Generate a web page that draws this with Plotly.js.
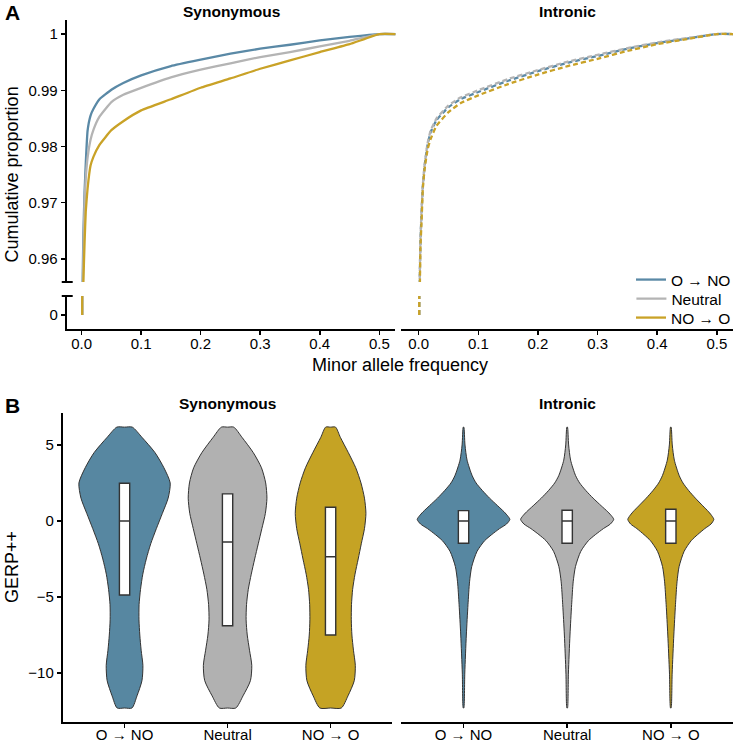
<!DOCTYPE html>
<html>
<head>
<meta charset="utf-8">
<script src="https://cdn.plot.ly/plotly-3.0.1.min.js"></script>
<style>html,body{margin:0;padding:0;background:#fff}</style>
</head>
<body>
<div id="chart" style="width:736px;height:743px"></div>
<script>
// ---------- DATA ----------
const groups = ["O → NO", "Neutral", "NO → O"];
const lineColors = ["#5A89A6", "#B4B4B4", "#C9A227"];
const fillColors = ["#5787A1", "#B1B1B1", "#C5A324"];

// Panel A: cumulative proportion vs minor allele frequency
const mafGrid = [0.001, 0.002, 0.003, 0.005, 0.007, 0.01, 0.015, 0.02, 0.03, 0.05, 0.07, 0.1, 0.15, 0.2, 0.25, 0.3, 0.35, 0.4, 0.45, 0.5, 0.53];
const synONO     = [0.950, 0.958, 0.9645, 0.972, 0.977, 0.9828, 0.9855, 0.9867, 0.9884, 0.9901, 0.9913, 0.99265, 0.9943, 0.99544, 0.9965, 0.99739, 0.9981, 0.99887, 0.9995, 1.0, 1.0];
const synNeutral = [0.948, 0.955, 0.961, 0.9705, 0.9745, 0.978, 0.9812, 0.9830, 0.9853, 0.9879, 0.9892, 0.99043, 0.9923, 0.99366, 0.9948, 0.99591, 0.9968, 0.9978, 0.9988, 1.0, 1.0];
const synNOO     = [0.940, 0.950, 0.956, 0.963, 0.9685, 0.9725, 0.9766, 0.9782, 0.9803, 0.9829, 0.9845, 0.98642, 0.9884, 0.99045, 0.9921, 0.99383, 0.9953, 0.9968, 0.9982, 1.0, 1.0];
const intONO     = [0.944, 0.957, 0.963, 0.9685, 0.9729, 0.9765, 0.9803, 0.9825, 0.9847, 0.9870, 0.9884, 0.9897, 0.9917, 0.9934, 0.9949, 0.9961, 0.9974, 0.9984, 0.9992, 1.0, 1.0];
const intNeutral = [0.945, 0.958, 0.9635, 0.969, 0.9732, 0.9768, 0.9806, 0.9828, 0.9850, 0.9873, 0.9887, 0.9900, 0.9920, 0.9936, 0.9951, 0.9963, 0.9975, 0.9985, 0.9993, 1.0, 1.0];
const intNOO     = [0.940, 0.955, 0.962, 0.967, 0.9725, 0.9760, 0.9795, 0.9813, 0.9837, 0.9861, 0.9877, 0.9891, 0.9911, 0.9928, 0.9943, 0.9956, 0.9970, 0.9982, 0.9991, 1.0, 1.0];

const mafTicks = [0, 0.1, 0.2, 0.3, 0.4, 0.5];
const cumTicks = [0.96, 0.97, 0.98, 0.99, 1];
const cumTickText = ["0.96", "0.97", "0.98", "0.99", "1"];

// Panel B: GERP++ violin profiles (half-width, category units) and box statistics
const synLevels = [6.17, 5.5, 4.5, 3.5, 2.5, 1.5, 0.5, -0.5, -1.5, -2.5, -3.5, -4.5, -5.5, -6.5, -7.5, -8.5, -9.5, -10.5, -11.5, -12.3];
const synWidthONO     = [0.075, 0.169, 0.295, 0.382, 0.443, 0.423, 0.367, 0.309, 0.254, 0.211, 0.177, 0.155, 0.141, 0.140, 0.148, 0.161, 0.178, 0.169, 0.121, 0.072];
const synWidthNeutral = [0.060, 0.140, 0.249, 0.329, 0.370, 0.382, 0.367, 0.333, 0.298, 0.263, 0.230, 0.201, 0.184, 0.180, 0.191, 0.213, 0.235, 0.222, 0.150, 0.080];
const synWidthNOO     = [0.048, 0.095, 0.172, 0.244, 0.295, 0.329, 0.343, 0.329, 0.298, 0.268, 0.237, 0.214, 0.203, 0.201, 0.207, 0.222, 0.240, 0.230, 0.169, 0.104];

const intLevels = [6.17, 5, 4, 3, 2.5, 2, 1.5, 1, 0.6, 0.3, 0.1, -0.2, -0.5, -0.9, -1.3, -2, -3, -4, -5.5, -7.5, -10, -12.3];
const intWidthONO     = [0.003, 0.014, 0.034, 0.082, 0.121, 0.182, 0.251, 0.329, 0.391, 0.430, 0.447, 0.415, 0.348, 0.271, 0.203, 0.130, 0.079, 0.058, 0.043, 0.027, 0.012, 0.003];
const intWidthNeutral = [0.003, 0.014, 0.033, 0.080, 0.120, 0.180, 0.250, 0.328, 0.392, 0.432, 0.449, 0.417, 0.350, 0.272, 0.204, 0.131, 0.080, 0.058, 0.043, 0.027, 0.012, 0.003];
const intWidthNOO     = [0.003, 0.014, 0.034, 0.080, 0.117, 0.172, 0.237, 0.308, 0.365, 0.400, 0.415, 0.388, 0.328, 0.258, 0.196, 0.128, 0.080, 0.060, 0.045, 0.029, 0.013, 0.003];

const synQ1 = [-4.87, -6.89, -7.5];
const synMedian = [0.0, -1.38, -2.35];
const synQ3 = [2.48, 1.78, 0.9];
const intQ1 = [-1.47, -1.47, -1.47];
const intMedian = [0.0, 0.0, 0.0];
const intQ3 = [0.68, 0.70, 0.77];

const gerpTicks = [-10, -5, 0, 5];
const gerpTickText = ["\u221210", "\u22125", "0", "5"];
const catPos = [1, 2, 3];

// ---------- LAYOUT HELPERS ----------
const W = 736, H = 743;
const px = v => v / W;
const py = v => 1 - v / H;
const FONT = "Liberation Sans, Arial, Helvetica, sans-serif";
const legendIds = ["legend", "legend2", "legend3"];

const traces = [];

// Panel A curves
const synSeries = [synONO, synNeutral, synNOO];
const intSeries = [intONO, intNeutral, intNOO];
for (let g = 0; g < 3; g++) {
  traces.push({type: "scatter", mode: "lines", x: mafGrid, y: synSeries[g], xaxis: "x", yaxis: "y",
    name: groups[g], legend: legendIds[g], showlegend: true,
    line: {color: lineColors[g], width: 2.3, shape: "spline", smoothing: 0.4}, hoverinfo: "skip"});
  traces.push({type: "scatter", mode: "lines", x: [mafGrid[0]].concat(mafGrid), y: [0].concat(synSeries[g]), xaxis: "x", yaxis: "y3",
    showlegend: false, line: {color: lineColors[g], width: 2.3}, hoverinfo: "skip"});
}
for (let g = 0; g < 3; g++) {
  traces.push({type: "scatter", mode: "lines", x: mafGrid, y: intSeries[g], xaxis: "x2", yaxis: "y2",
    showlegend: false, line: {color: lineColors[g], width: 2.3, dash: "5px,3px", shape: "spline", smoothing: 0.4}, hoverinfo: "skip"});
  traces.push({type: "scatter", mode: "lines", x: [mafGrid[0]].concat(mafGrid), y: [0].concat(intSeries[g]), xaxis: "x2", yaxis: "y4",
    showlegend: false, line: {color: lineColors[g], width: 2.3, dash: "5px,3px"}, hoverinfo: "skip"});
}

// Panel B violins (outline built from the half-width profile)
function violin(pos, levels, widths, color, xa, ya) {
  const n = levels.length;
  const xs = [pos], ys = [levels[0]];
  for (let i = 0; i < n; i++) { xs.push(pos + widths[i]); ys.push(levels[i]); }
  xs.push(pos); ys.push(levels[n - 1]);
  for (let i = n - 1; i >= 0; i--) { xs.push(pos - widths[i]); ys.push(levels[i]); }
  xs.push(pos); ys.push(levels[0]);
  return {type: "scatter", mode: "lines", x: xs, y: ys, xaxis: xa, yaxis: ya, fill: "toself",
    fillcolor: color, line: {color: "#333333", width: 1, shape: "spline", smoothing: 0.7},
    showlegend: false, hoverinfo: "skip"};
}
const synWidths = [synWidthONO, synWidthNeutral, synWidthNOO];
const intWidths = [intWidthONO, intWidthNeutral, intWidthNOO];
for (let g = 0; g < 3; g++) {
  traces.push(violin(catPos[g], synLevels, synWidths[g], fillColors[g], "x3", "y5"));
  traces.push(violin(catPos[g], intLevels, intWidths[g], fillColors[g], "x4", "y6"));
}
// boxes on overlay axes so they sit above the violins
function box(g, q1, med, q3, xa, ya) {
  return {type: "box", x: [catPos[g]], q1: [q1[g]], median: [med[g]], q3: [q3[g]],
    lowerfence: [q1[g]], upperfence: [q3[g]], width: 0.1, boxpoints: false,
    fillcolor: "#ffffff", line: {color: "#333333", width: 1.4}, whiskerwidth: 0,
    xaxis: xa, yaxis: ya, showlegend: false, hoverinfo: "skip"};
}
for (let g = 0; g < 3; g++) {
  traces.push(box(g, synQ1, synMedian, synQ3, "x5", "y7"));
  traces.push(box(g, intQ1, intMedian, intQ3, "x6", "y8"));
}

// ---------- AXES ----------
const axCommon = {showgrid: false, zeroline: false, showline: true, linecolor: "#000", linewidth: 2,
  ticks: "outside", ticklen: 4, tickwidth: 1.5, tickcolor: "#000",
  tickfont: {family: FONT, size: 15, color: "#000"}, fixedrange: true};
const hidden = {showgrid: false, zeroline: false, showline: false, ticks: "", showticklabels: false, fixedrange: true};
const legendBase = {x: px(634), xanchor: "left", yanchor: "middle", bgcolor: "rgba(0,0,0,0)",
  font: {family: FONT, size: 15.5, color: "#000"}, itemwidth: 30};

const layout = {
  width: W, height: H, margin: {l: 0, r: 0, t: 0, b: 0},
  paper_bgcolor: "#fff", plot_bgcolor: "rgba(0,0,0,0)",
  font: {family: FONT, color: "#000"},
  showlegend: true,
  legend: Object.assign({}, legendBase, {y: py(280)}),
  legend2: Object.assign({}, legendBase, {y: py(299)}),
  legend3: Object.assign({}, legendBase, {y: py(318)}),
  xaxis: Object.assign({}, axCommon, {ticklabelstandoff: -4, domain: [px(67), px(397)], anchor: "y3", range: [-0.025, 0.527],
    tickvals: mafTicks, ticktext: mafTicks.map(v => v.toFixed(1))}),
  yaxis: Object.assign({}, axCommon, {domain: [py(282), py(20)], anchor: "x", range: [0.9559, 1.0025],
    tickvals: cumTicks, ticktext: cumTickText}),
  yaxis3: Object.assign({}, axCommon, {domain: [py(329), py(296)], anchor: "x", range: [-0.014, 0.019],
    tickvals: [0], ticktext: ["0"]}),
  xaxis2: Object.assign({}, axCommon, {ticklabelstandoff: -4, domain: [px(403), px(736)], anchor: "y4", range: [-0.029, 0.527],
    tickvals: mafTicks, ticktext: mafTicks.map(v => v.toFixed(1))}),
  yaxis2: Object.assign({}, hidden, {domain: [py(282), py(20)], anchor: "x2", range: [0.9559, 1.0025]}),
  yaxis4: Object.assign({}, hidden, {domain: [py(329), py(296)], anchor: "x2", range: [-0.014, 0.019]}),
  xaxis3: Object.assign({}, axCommon, {ticklabelstandoff: -6, domain: [px(63), px(394)], anchor: "y5", range: [0.4, 3.6],
    tickvals: catPos, ticktext: groups}),
  yaxis5: Object.assign({}, axCommon, {domain: [py(722), py(413)], anchor: "x3", range: [-13.22, 7.1],
    tickvals: gerpTicks, ticktext: gerpTickText}),
  xaxis4: Object.assign({}, axCommon, {ticklabelstandoff: -6, domain: [px(403), px(736)], anchor: "y6", range: [0.4, 3.6],
    tickvals: catPos, ticktext: groups}),
  yaxis6: Object.assign({}, hidden, {domain: [py(722), py(413)], anchor: "x4", range: [-13.22, 7.1]}),
  xaxis5: Object.assign({}, hidden, {overlaying: "x3", anchor: "y7", range: [0.4, 3.6]}),
  yaxis7: Object.assign({}, hidden, {overlaying: "y5", anchor: "x5", range: [-13.22, 7.1]}),
  xaxis6: Object.assign({}, hidden, {overlaying: "x4", anchor: "y8", range: [0.4, 3.6]}),
  yaxis8: Object.assign({}, hidden, {overlaying: "y6", anchor: "x6", range: [-13.22, 7.1]}),
  annotations: [
    {text: "<b>A</b>", x: px(3), y: py(13), xref: "paper", yref: "paper", xanchor: "left", yanchor: "middle", showarrow: false, font: {family: FONT, size: 21}},
    {text: "<b>B</b>", x: px(3), y: py(405), xref: "paper", yref: "paper", xanchor: "left", yanchor: "middle", showarrow: false, font: {family: FONT, size: 21}},
    {text: "<b>Synonymous</b>", x: px(232), y: py(11), xref: "paper", yref: "paper", xanchor: "center", yanchor: "middle", showarrow: false, font: {family: FONT, size: 15.5}},
    {text: "<b>Intronic</b>", x: px(569.5), y: py(11), xref: "paper", yref: "paper", xanchor: "center", yanchor: "middle", showarrow: false, font: {family: FONT, size: 15.5}},
    {text: "<b>Synonymous</b>", x: px(228.5), y: py(403), xref: "paper", yref: "paper", xanchor: "center", yanchor: "middle", showarrow: false, font: {family: FONT, size: 15.5}},
    {text: "<b>Intronic</b>", x: px(569.5), y: py(403), xref: "paper", yref: "paper", xanchor: "center", yanchor: "middle", showarrow: false, font: {family: FONT, size: 15.5}},
    {text: "Minor allele frequency", x: px(401.5), y: py(365), xref: "paper", yref: "paper", xanchor: "center", yanchor: "middle", showarrow: false, font: {family: FONT, size: 18}},
    {text: "Cumulative proportion", x: px(12), y: py(174.5), xref: "paper", yref: "paper", xanchor: "center", yanchor: "middle", textangle: -90, showarrow: false, font: {family: FONT, size: 18}},
    {text: "GERP++", x: px(12), y: py(567), xref: "paper", yref: "paper", xanchor: "center", yanchor: "middle", textangle: -90, showarrow: false, font: {family: FONT, size: 18}}
  ],
  shapes: [
    {type: "line", xref: "paper", yref: "paper", x0: px(62), x1: px(73), y0: py(282), y1: py(282), line: {color: "#000", width: 2}},
    {type: "line", xref: "paper", yref: "paper", x0: px(62), x1: px(73), y0: py(296), y1: py(296), line: {color: "#000", width: 2}}
  ]
};

Plotly.newPlot("chart", traces, layout, {staticPlot: true, displayModeBar: false});
</script>
</body>
</html>
